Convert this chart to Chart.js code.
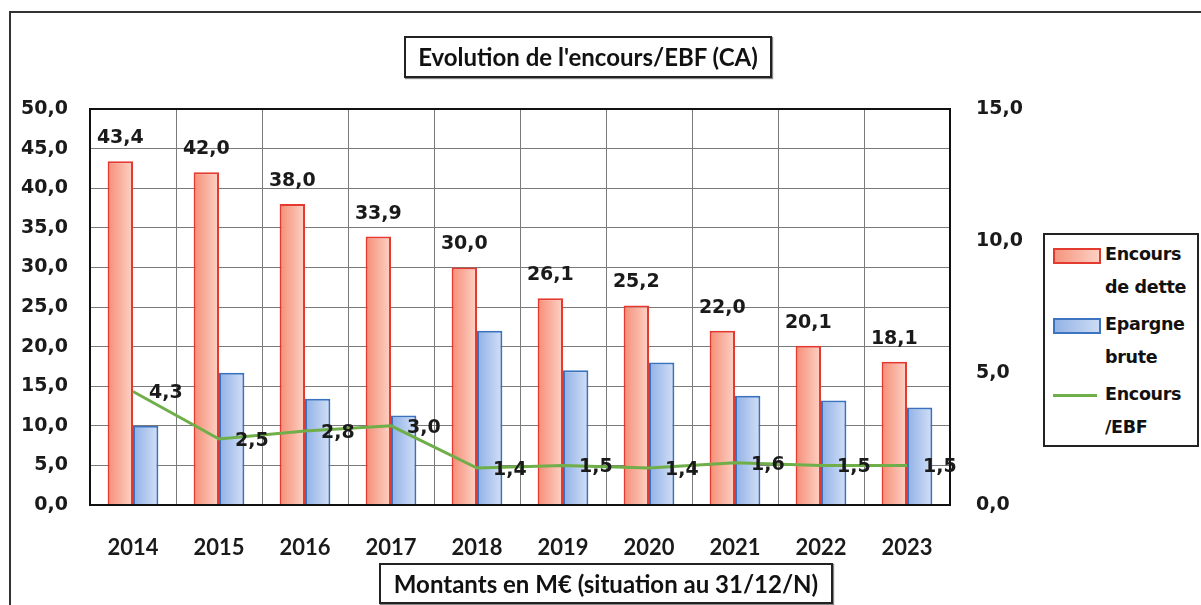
<!DOCTYPE html>
<html>
<head>
<meta charset="utf-8">
<script src="https://cdn.jsdelivr.net/npm/chart.js@4.4.1/dist/chart.umd.min.js"></script>
<style>
  html, body { margin: 0; padding: 0; background: #fff; }
  #wrap { position: relative; width: 1201px; height: 605px; overflow: hidden; }
  #frame { position: absolute; left: 9px; top: 11px; width: 1200px; height: 600px;
           border-left: 2px solid #333; border-top: 2px solid #333; }
  canvas { position: absolute; left: 0; top: 0; }
  .box { position: absolute; border: 2px solid #222; background: #fff; color: #111;
         font-family: Lato, "Open Sans", sans-serif; font-weight: bold; text-align: center;
         box-shadow: 1px 1px 1px #888; }
  #title { left: 404px; top: 36px; width: 364px; height: 38px; line-height: 38px; font-size: 24px; }
  #caption { left: 379px; top: 563px; width: 450px; height: 37px; line-height: 37px; font-size: 24px; }
  #legend { position: absolute; left: 1043px; top: 233px; width: 152px; height: 210px;
            border: 2px solid #222; background: #fff;
            font-family: "DejaVu Sans", sans-serif; font-weight: bold; font-size: 17.5px; color: #111; }
  .item { position: absolute; left: 60px; line-height: 33px; letter-spacing: -0.3px; }
  .sw { position: absolute; left: 8px; width: 44px; height: 12px; }
</style>
</head>
<body>
<div id="wrap">
  <div id="frame"></div>
  <canvas id="chart" width="1201" height="605"></canvas>
  <div class="box" id="title">Evolution de l'encours/EBF (CA)</div>
  <div class="box" id="caption">Montants en M€ (situation au 31/12/N)</div>
  <div id="legend">
    <div class="sw" style="top:13px;border:2px solid #e33b32;background:linear-gradient(90deg,#f6957f,#fcd0c2);"></div>
    <div class="item" style="top:3px;">Encours<br>de dette</div>
    <div class="sw" style="top:83px;border:2px solid #3d74c0;background:linear-gradient(90deg,#93b3e6,#cddcf5);"></div>
    <div class="item" style="top:73px;">Epargne<br>brute</div>
    <div class="sw" style="top:159px;height:3px;background:#6fae48;"></div>
    <div class="item" style="top:143px;">Encours<br>/EBF</div>
  </div>
</div>
<script>
const years = ['2014', '2015', '2016', '2017', '2018', '2019', '2020', '2021', '2022', '2023'];
const encours = [43.4, 42.0, 38.0, 33.9, 30.0, 26.1, 25.2, 22.0, 20.1, 18.1];
const epargne = [10.0, 16.7, 13.4, 11.3, 22.0, 17.0, 18.0, 13.8, 13.2, 12.3];
const ratio = [4.3, 2.5, 2.8, 3.0, 1.4, 1.5, 1.4, 1.6, 1.5, 1.5];

const fmt = v => v.toFixed(1).replace('.', ',');
const GROUP = 0.59;

// horizontal gradient across each bar (side -1 = left bar, +1 = right bar)
function barFill(from, to, side) {
  return (ctx) => {
    const chart = ctx.chart;
    const x = chart.scales.x;
    if (!x || ctx.type !== 'data') return to;
    const cx = x.getPixelForValue(ctx.dataIndex);
    const w = x.width / years.length * GROUP / 2;
    if (!isFinite(cx) || !isFinite(w) || w <= 0) return to;
    const x0 = side < 0 ? cx - w : cx;
    const g = chart.ctx.createLinearGradient(x0, 0, x0 + w, 0);
    g.addColorStop(0, from);
    g.addColorStop(1, to);
    return g;
  };
}

const labelsPlugin = {
  id: 'valueLabels',
  afterDatasetsDraw(chart) {
    const c = chart.ctx;
    const a = chart.chartArea;
    c.save();
    c.lineWidth = 2;
    c.strokeStyle = '#111';
    c.strokeRect(a.left, a.top, a.right - a.left, a.bottom - a.top);
    c.fillStyle = '#1a1a1a';
    c.font = 'bold 19px "DejaVu Sans"';
    c.textAlign = 'center';
    c.textBaseline = 'alphabetic';
    chart.getDatasetMeta(1).data.forEach((bar, i) => {
      c.fillText(fmt(encours[i]), bar.x, bar.y - 18);
    });
    c.textAlign = 'left';
    c.textBaseline = 'middle';
    chart.getDatasetMeta(0).data.forEach((pt, i) => {
      c.fillText(fmt(ratio[i]), pt.x + 16, pt.y + 2);
    });
    c.restore();
  }
};

const config = {
  type: 'bar',
  data: {
    labels: years,
    datasets: [
      {
        type: 'line',
        label: 'Encours /EBF',
        data: ratio,
        yAxisID: 'y1',
        borderColor: '#6fae48',
        borderWidth: 3,
        pointRadius: 0,
        tension: 0,
        order: 0
      },
      {
        label: 'Encours de dette',
        data: encours,
        yAxisID: 'y',
        backgroundColor: barFill('#f58d76', '#fdd3c6', -1),
        borderColor: '#e53a30',
        borderWidth: 2,
        categoryPercentage: GROUP,
        barPercentage: 1,
        order: 1
      },
      {
        label: 'Epargne brute',
        data: epargne,
        yAxisID: 'y',
        backgroundColor: barFill('#8fb0e6', '#d3e0f7', 1),
        borderColor: '#3a72c0',
        borderWidth: 2,
        categoryPercentage: GROUP,
        barPercentage: 1,
        order: 1
      }
    ]
  },
  options: {
    responsive: false,
    animation: false,
    layout: { padding: { top: 109, left: 0, right: 0, bottom: 0 } },
    plugins: {
      legend: { display: false },
      title: { display: false },
      tooltip: { enabled: false }
    },
    scales: {
      x: {
        grid: { color: '#7a7a7a', lineWidth: 1, drawTicks: false, offset: true },
        border: { color: '#111', width: 2 },
        ticks: {
          color: '#1a1a1a',
          padding: 30,
          font: { family: 'Lato', weight: 'bold', size: 22 }
        },
        afterFit: s => { s.height = 100; }
      },
      y: {
        position: 'left',
        min: 0,
        max: 50,
        grid: { color: '#7a7a7a', lineWidth: 1, drawTicks: false },
        border: { color: '#111', width: 2 },
        ticks: {
          stepSize: 5,
          color: '#1a1a1a',
          padding: 22,
          font: { family: 'DejaVu Sans', weight: 'bold', size: 19 },
          callback: v => fmt(v)
        },
        afterFit: s => { s.width = 90; }
      },
      y1: {
        position: 'right',
        min: 0,
        max: 15,
        grid: { drawOnChartArea: false, drawTicks: false },
        border: { color: '#111', width: 2 },
        ticks: {
          stepSize: 5,
          color: '#1a1a1a',
          padding: 26,
          font: { family: 'DejaVu Sans', weight: 'bold', size: 19 },
          callback: v => fmt(v)
        },
        afterFit: s => { s.width = 251; }
      }
    }
  },
  plugins: [labelsPlugin]
};

const ctx = document.getElementById('chart').getContext('2d');
new Chart(ctx, config);
</script>
</body>
</html>
